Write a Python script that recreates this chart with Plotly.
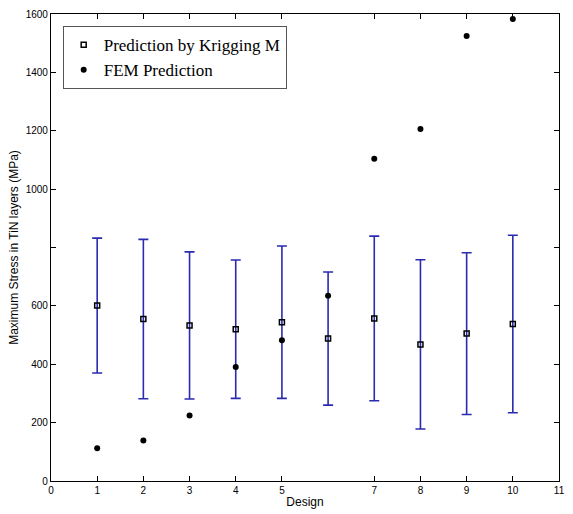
import plotly.graph_objects as go

designs = [1, 2, 3, 4, 5, 6, 7, 8, 9, 10]
kriging = [601, 555, 533, 520, 544, 488, 557, 468, 505, 538]
kriging_err = [231, 273, 252, 237, 261, 228, 282, 290, 277, 304]
fem = [112, 139, 224, 391, 482, 635, 1104, 1206, 1525, 1583]

x_tickvals = [0, 1, 2, 3, 4, 5, 7, 8, 9, 10, 11]
x_ticktext = ["0", "1", "2", "3", "4", "5", "7", "8", "9", "10", "11"]
y_tickvals = [0, 200, 400, 600, 800, 1000, 1200, 1400, 1600]
y_ticktext = ["0", "200", "400", "600", "", "1000", "1200", "1400", "1600"]

fig = go.Figure()
fig.add_trace(go.Scatter(
    x=designs, y=kriging, mode="markers", name="Prediction by Krigging M",
    marker=dict(symbol="square-open", size=5, color="black", line=dict(width=1.5, color="black")),
    error_y=dict(type="data", array=kriging_err, visible=True, color="#2b2bb0", thickness=1.6, width=5),
))
fig.add_trace(go.Scatter(
    x=designs, y=fem, mode="markers", name="FEM Prediction",
    marker=dict(symbol="circle", size=6, color="black"),
))

fig.update_layout(
    width=573, height=514,
    margin=dict(l=51, r=8, t=12, b=31),
    paper_bgcolor="white", plot_bgcolor="white",
    font=dict(family="Liberation Sans, Arial, sans-serif", size=10, color="black"),
    showlegend=True,
    legend=dict(
        x=0.023, y=0.974, xanchor="left", yanchor="top",
        bgcolor="white", bordercolor="#555555", borderwidth=1,
        font=dict(family="Liberation Serif, Times New Roman, serif", size=17, color="black"),
        tracegroupgap=0, itemsizing="trace", itemwidth=30,
    ),
    xaxis=dict(
        range=[0, 11], tickvals=x_tickvals, ticktext=x_ticktext,
        ticks="inside", ticklen=5, tickcolor="black",
        showline=True, linecolor="black", linewidth=1.2, mirror="ticks",
        showgrid=False, zeroline=False,
        title=dict(text="Design", font=dict(size=12), standoff=2),
    ),
    yaxis=dict(
        range=[0, 1600], tickvals=y_tickvals, ticktext=y_ticktext,
        ticks="inside", ticklen=5, tickcolor="black",
        showline=True, linecolor="black", linewidth=1.2, mirror="ticks",
        showgrid=False, zeroline=False,
        title=dict(text="Maximum Stress in TiN layers (MPa)", font=dict(size=12), standoff=4),
    ),
)

fig.write_html("out.html")
